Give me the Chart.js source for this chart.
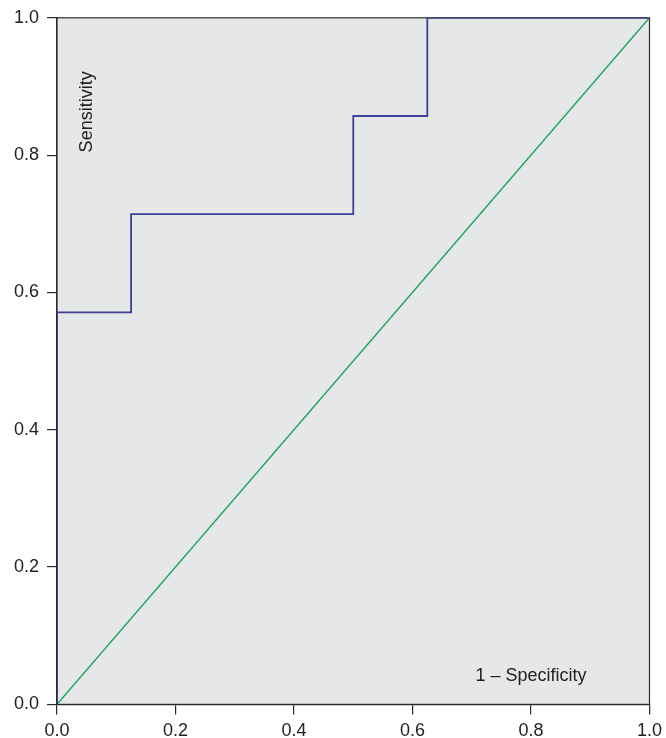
<!DOCTYPE html>
<html><head><meta charset="utf-8">
<script src="https://cdn.jsdelivr.net/npm/chart.js@4"></script>
<style>html,body{margin:0;padding:0;background:#fff;overflow:hidden}#w{width:668px;height:739px;margin-top:-1px}</style>
</head><body><div id="w"><canvas id="c"></canvas></div>
<script>
const rocX = [0, 0, 0.125, 0.125, 0.5, 0.5, 0.625, 0.625, 1.0];
const rocY = [0, 0.571, 0.571, 0.714, 0.714, 0.857, 0.857, 1.0, 1.0];
const refX = [0, 1];
const refY = [0, 1];
const tickValues = [0, 0.2, 0.4, 0.6, 0.8, 1.0];
const yTitle = 'Sensitivity';
const xTitle = '1 \u2013 Specificity';
const FONT = '"Liberation Sans", Arial, Helvetica, sans-serif';

const frame = {
  id: 'frame',
  beforeDatasetsDraw(chart) {
    const {ctx, chartArea: a} = chart;
    ctx.save();
    ctx.fillStyle = '#e6e7e9';
    ctx.fillRect(a.left, a.top, a.right - a.left, a.bottom - a.top);
    ctx.strokeStyle = '#2a2a2a';
    ctx.lineWidth = 1.2;
    ctx.strokeRect(a.left, a.top, a.right - a.left, a.bottom - a.top);
    ctx.fillStyle = '#222';
    ctx.font = '18px ' + FONT;
    ctx.textAlign = 'center';
    ctx.textBaseline = 'middle';
    ctx.fillText(xTitle, chart.scales.x.getPixelForValue(0.80), chart.scales.y.getPixelForValue(0.042));
    ctx.translate(chart.scales.x.getPixelForValue(0.0507), chart.scales.y.getPixelForValue(0.863));
    ctx.rotate(-Math.PI / 2);
    ctx.fillText(yTitle, 0, 0);
    ctx.restore();
  }
};

new Chart(document.getElementById('c'), {
  type: 'scatter',
  data: {
    datasets: [
      { data: rocX.map((x, i) => ({x, y: rocY[i]})), showLine: true, borderColor: '#3d3f98', borderWidth: 1.8, pointRadius: 0, fill: false, tension: 0, order: 1 },
      { data: refX.map((x, i) => ({x, y: refY[i]})), showLine: true, borderColor: '#1aa55a', borderWidth: 1.4, pointRadius: 0, fill: false, order: 2 }
    ]
  },
  options: {
    responsive: true, maintainAspectRatio: false, animation: false,
    layout: { padding: { left: 6, right: 11, top: 15, bottom: -10 } },
    plugins: { legend: { display: false }, tooltip: { enabled: false } },
    scales: {
      x: {
        type: 'linear', min: 0, max: 1,
        afterBuildTicks: s => { s.ticks = tickValues.map(v => ({value: v})); },
        ticks: { color: '#222', font: { family: FONT, size: 18 }, padding: 6, maxRotation: 0, callback: v => v.toFixed(1) },
        grid: { drawOnChartArea: false, drawTicks: true, tickLength: 10, color: '#2a2a2a', lineWidth: 1.2 },
        border: { display: true, color: '#2a2a2a', width: 1.2 }
      },
      y: {
        type: 'linear', min: 0, max: 1,
        afterBuildTicks: s => { s.ticks = tickValues.map(v => ({value: v})); },
        ticks: { color: '#222', font: { family: FONT, size: 18 }, padding: 8, callback: v => v.toFixed(1) },
        grid: { drawOnChartArea: false, drawTicks: true, tickLength: 10, color: '#2a2a2a', lineWidth: 1.2 },
        border: { display: true, color: '#2a2a2a', width: 1.2 }
      }
    }
  },
  plugins: [frame]
});
</script></body></html>
